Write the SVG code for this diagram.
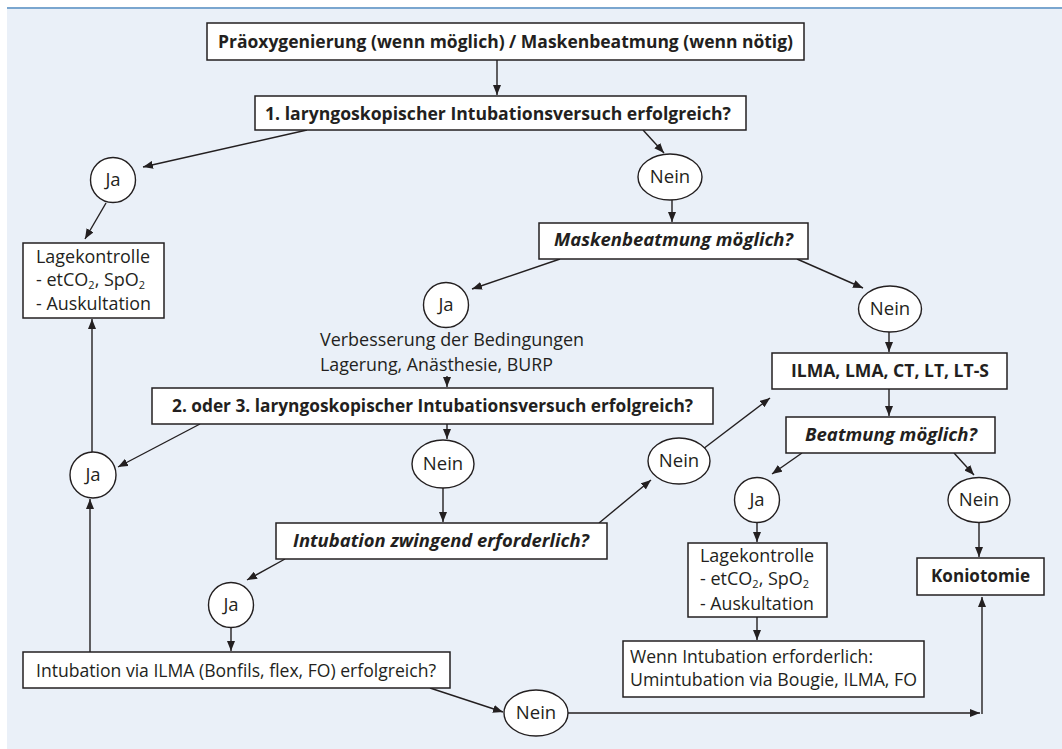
<svg xmlns="http://www.w3.org/2000/svg" width="1062" height="749" viewBox="0 0 1062 749">
<defs>
<marker id="ah" markerUnits="userSpaceOnUse" markerWidth="10" markerHeight="8" refX="10" refY="4" orient="auto">
<path d="M0,0 L10,4 L0,8 z" fill="#231f20"/>
</marker>
<style>
.box{fill:#fff;stroke:#231f20;stroke-width:1.5}
.oval{fill:#fff;stroke:#231f20;stroke-width:1.4}
.t{font-family:"Open Sans","Liberation Sans",sans-serif;font-size:18px;fill:#231f20}
.b{font-weight:bold}
.bi{font-weight:bold;font-style:italic}
.c{text-anchor:middle;font-size:18.5px}
.sub{font-size:11px}
#connectors line{stroke:#231f20;stroke-width:1.4;marker-end:url(#ah)}
</style>
</defs>
<rect x="0" y="0" width="1062" height="749" fill="#ffffff"/>
<rect x="7" y="8" width="1055" height="741" fill="#eaf0f8"/>
<line x1="7" y1="8" x2="1062" y2="8" stroke="#7aa6cf" stroke-width="2"/>

<g id="connectors">
<line x1="497" y1="60" x2="497" y2="95"/>
<line x1="307" y1="130" x2="143" y2="167"/>
<line x1="643" y1="130" x2="664" y2="153"/>
<line x1="106" y1="203" x2="85" y2="239"/>
<line x1="92" y1="452" x2="92" y2="319"/>
<line x1="672" y1="200" x2="672" y2="222"/>
<line x1="560" y1="259" x2="472" y2="289"/>
<line x1="797" y1="259" x2="863" y2="288"/>
<line x1="889" y1="332" x2="889" y2="352"/>
<line x1="889" y1="389" x2="889" y2="416"/>
<line x1="447" y1="376" x2="447" y2="387"/>
<line x1="447" y1="424" x2="447" y2="439"/>
<line x1="200" y1="424" x2="118" y2="467"/>
<line x1="90" y1="652" x2="90" y2="499"/>
<line x1="443" y1="488" x2="443" y2="522"/>
<line x1="285" y1="559" x2="247" y2="580"/>
<line x1="231" y1="628" x2="231" y2="651"/>
<line x1="430" y1="688" x2="503" y2="712"/>
<line x1="568" y1="713" x2="980" y2="713"/>
<line x1="982" y1="714" x2="982" y2="597"/>
<line x1="599" y1="523" x2="651" y2="480"/>
<line x1="703" y1="449" x2="770" y2="398"/>
<line x1="802" y1="453" x2="772" y2="474"/>
<line x1="954" y1="453" x2="974" y2="475"/>
<line x1="757" y1="523" x2="757" y2="542"/>
<line x1="757" y1="617" x2="757" y2="640"/>
<line x1="979" y1="523" x2="979" y2="557"/>
</g>

<g id="n-start">
<rect class="box" x="207" y="23" width="597" height="37"/>
<text class="t b" x="218" y="48" textLength="575" lengthAdjust="spacingAndGlyphs">Präoxygenierung (wenn möglich) / Maskenbeatmung (wenn nötig)</text>
</g>
<g id="n-first">
<rect class="box" x="255" y="96" width="491" height="34"/>
<text class="t b" x="265" y="120" textLength="466" lengthAdjust="spacingAndGlyphs">1. laryngoskopischer Intubationsversuch erfolgreich?</text>
</g>
<g id="n-ja1">
<circle class="oval" cx="113" cy="180" r="22.5"/>
<text class="t c" x="113" y="186">Ja</text>
</g>
<g id="n-nein1">
<ellipse class="oval" cx="670" cy="177" rx="32" ry="23"/>
<text class="t c" x="670" y="183">Nein</text>
</g>
<g id="n-lage1">
<rect class="box" x="23" y="243" width="141" height="75"/>
<text class="t" x="36" y="263" textLength="114" lengthAdjust="spacingAndGlyphs">Lagekontrolle</text>
<text class="t" x="36" y="286">- etCO<tspan class="sub" dy="3">2</tspan><tspan dy="-3">, SpO</tspan><tspan class="sub" dy="3">2</tspan></text>
<text class="t" x="36" y="310" textLength="115" lengthAdjust="spacingAndGlyphs">- Auskultation</text>
</g>
<g id="n-maske">
<rect class="box" x="539" y="223" width="269" height="36"/>
<text class="t bi" x="554" y="246" textLength="239" lengthAdjust="spacingAndGlyphs">Maskenbeatmung möglich?</text>
</g>
<g id="n-ja3">
<circle class="oval" cx="446" cy="305" r="22.5"/>
<text class="t c" x="446" y="311">Ja</text>
</g>
<g id="n-nein2">
<ellipse class="oval" cx="890" cy="309" rx="31.5" ry="23"/>
<text class="t c" x="890" y="315">Nein</text>
</g>
<g id="n-verbesserung">
<text class="t" x="320" y="346" textLength="264" lengthAdjust="spacingAndGlyphs">Verbesserung der Bedingungen</text>
<text class="t" x="320" y="371" textLength="233" lengthAdjust="spacingAndGlyphs">Lagerung, Anästhesie, BURP</text>
</g>
<g id="n-ilma">
<rect class="box" x="772" y="353" width="235" height="36"/>
<text class="t b" x="791" y="377" textLength="198" lengthAdjust="spacingAndGlyphs">ILMA, LMA, CT, LT, LT-S</text>
</g>
<g id="n-second">
<rect class="box" x="152" y="388" width="561" height="36"/>
<text class="t b" x="172" y="412" textLength="521" lengthAdjust="spacingAndGlyphs">2. oder 3. laryngoskopischer Intubationsversuch erfolgreich?</text>
</g>
<g id="n-beatmung">
<rect class="box" x="786" y="417" width="209" height="36"/>
<text class="t bi" x="805" y="441" textLength="172" lengthAdjust="spacingAndGlyphs">Beatmung möglich?</text>
</g>
<g id="n-ja2">
<circle class="oval" cx="93" cy="475" r="23"/>
<text class="t c" x="93" y="481">Ja</text>
</g>
<g id="n-nein3">
<ellipse class="oval" cx="443" cy="464" rx="31" ry="24"/>
<text class="t c" x="443" y="470">Nein</text>
</g>
<g id="n-nein4">
<ellipse class="oval" cx="679" cy="461" rx="31" ry="23"/>
<text class="t c" x="679" y="467">Nein</text>
</g>
<g id="n-ja5">
<circle class="oval" cx="757" cy="500" r="22.5"/>
<text class="t c" x="757" y="506">Ja</text>
</g>
<g id="n-nein6">
<ellipse class="oval" cx="979" cy="500" rx="31" ry="22.5"/>
<text class="t c" x="979" y="506">Nein</text>
</g>
<g id="n-zwingend">
<rect class="box" x="276" y="523" width="331" height="36"/>
<text class="t bi" x="293" y="547" textLength="296" lengthAdjust="spacingAndGlyphs">Intubation zwingend erforderlich?</text>
</g>
<g id="n-lage2">
<rect class="box" x="688" y="543" width="139" height="74"/>
<text class="t" x="700" y="562" textLength="114" lengthAdjust="spacingAndGlyphs">Lagekontrolle</text>
<text class="t" x="700" y="585">- etCO<tspan class="sub" dy="3">2</tspan><tspan dy="-3">, SpO</tspan><tspan class="sub" dy="3">2</tspan></text>
<text class="t" x="700" y="610" textLength="114" lengthAdjust="spacingAndGlyphs">- Auskultation</text>
</g>
<g id="n-koniotomie">
<rect class="box" x="917" y="558" width="127" height="37"/>
<text class="t b" x="931" y="582" textLength="99" lengthAdjust="spacingAndGlyphs">Koniotomie</text>
</g>
<g id="n-ja4">
<circle class="oval" cx="231" cy="605" r="22.5"/>
<text class="t c" x="231" y="611">Ja</text>
</g>
<g id="n-wenn">
<rect class="box" x="623" y="641" width="301" height="56"/>
<text class="t" x="630" y="663" textLength="243" lengthAdjust="spacingAndGlyphs">Wenn Intubation erforderlich:</text>
<text class="t" x="630" y="686" textLength="287" lengthAdjust="spacingAndGlyphs">Umintubation via Bougie, ILMA, FO</text>
</g>
<g id="n-via-ilma">
<rect class="box" x="23" y="652" width="427" height="36"/>
<text class="t" x="36" y="677" textLength="400" lengthAdjust="spacingAndGlyphs">Intubation via ILMA (Bonfils, flex, FO) erfolgreich?</text>
</g>
<g id="n-nein5">
<ellipse class="oval" cx="536" cy="713" rx="32" ry="23"/>
<text class="t c" x="536" y="719">Nein</text>
</g>
</svg>
